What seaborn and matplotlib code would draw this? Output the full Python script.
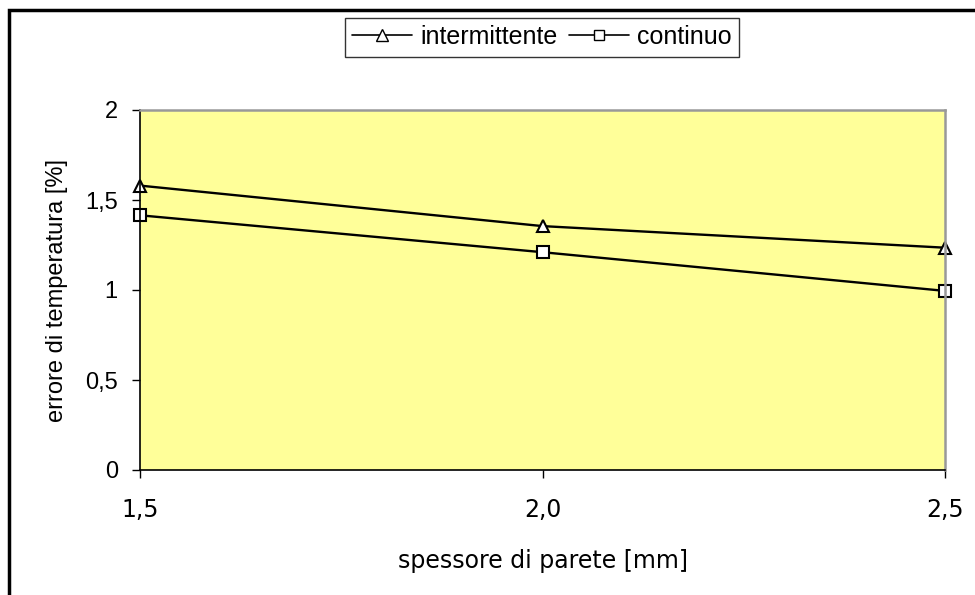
import matplotlib
matplotlib.use("Agg")
import matplotlib.pyplot as plt
import seaborn as sns
import pandas as pd
from matplotlib.patches import Rectangle
from matplotlib.lines import Line2D
from matplotlib.ticker import FixedLocator

# Data
spessore = [1.5, 2.0, 2.5]
intermittente = [1.58, 1.355, 1.235]
continuo = [1.415, 1.21, 0.995]
series_names = ["intermittente", "continuo"]
x_ticks = [1.5, 2.0, 2.5]
x_ticklabels = ["1,5", "2,0", "2,5"]
y_ticks = [0, 0.5, 1, 1.5, 2]
y_ticklabels = ["0", "0,5", "1", "1,5", "2"]

df = pd.DataFrame({
    "x": spessore * 2,
    "y": intermittente + continuo,
    "serie": [series_names[0]] * 3 + [series_names[1]] * 3,
})

sns.set_theme(style="white")
plt.rcParams["font.family"] = ["DejaVu Sans"]
plt.rcParams["text.color"] = "black"
plt.rcParams["legend.labelcolor"] = "black"

fig = plt.figure(figsize=(9.75, 5.95), dpi=100)
ax = fig.add_axes([140 / 975, 1 - 470 / 595, 805 / 975, 360 / 595])

sns.lineplot(data=df, x="x", y="y", style="serie", hue="serie",
             palette={"intermittente": "black", "continuo": "black"},
             markers={"intermittente": "^", "continuo": "s"},
             dashes=False, markersize=9, markerfacecolor="white",
             markeredgecolor="black", markeredgewidth=1.5,
             linewidth=1.7, ax=ax, legend=False)

ax.set_facecolor("#FFFF99")
ax.set_xlim(1.5, 2.5)
ax.set_ylim(0, 2)
ax.xaxis.set_major_locator(FixedLocator(x_ticks))
ax.set_xticklabels(x_ticklabels, fontfamily="DejaVu Sans", fontsize=17)
ax.yaxis.set_major_locator(FixedLocator(y_ticks))
ax.set_yticklabels(y_ticklabels, fontfamily="Liberation Sans", fontsize=17)
ax.tick_params(axis="both", which="both", direction="out", length=6,
               width=1, color="black", colors="black",
               left=True, bottom=True)
ax.tick_params(axis="x", pad=14.5)
ax.tick_params(axis="y", pad=10)
for s in ["left", "bottom"]:
    ax.spines[s].set_color("black")
    ax.spines[s].set_linewidth(1.2)
for s in ["top", "right"]:
    ax.spines[s].set_color("#999999")
    ax.spines[s].set_linewidth(1.8)
ax.set_xlabel("spessore di parete [mm]", fontsize=17,
              fontfamily="DejaVu Sans", labelpad=19, color="black")
ax.set_ylabel("errore di temperatura [%]", fontsize=17,
              fontfamily="Liberation Sans", labelpad=12, color="black")
for line in ax.lines:
    line.set_clip_on(False)

handles = [
    Line2D([], [], color="black", lw=1.2, marker="^", markersize=8.5,
           markerfacecolor="white", markeredgecolor="black"),
    Line2D([], [], color="black", lw=1.2, marker="s", markersize=7.5,
           markerfacecolor="white", markeredgecolor="black"),
]
leg = fig.legend(handles, series_names, loc="center",
                 bbox_to_anchor=(542 / 975, 1 - 37 / 595), ncol=2,
                 frameon=True, fancybox=False, edgecolor="black",
                 handlelength=2.4, handletextpad=0.33, columnspacing=0.45,
                 borderpad=0.3, borderaxespad=0,
                 prop={"family": "Liberation Sans", "size": 18})
leg.get_frame().set_linewidth(1.0)
for t in leg.get_texts():
    t.set_color("black")

fig.patches.append(Rectangle((9 / 975, -0.1), 1.2, 1 - 10 / 595 + 0.1,
                             transform=fig.transFigure, fill=False,
                             edgecolor="black", linewidth=2.5))

fig.savefig("out.png", dpi=100)
